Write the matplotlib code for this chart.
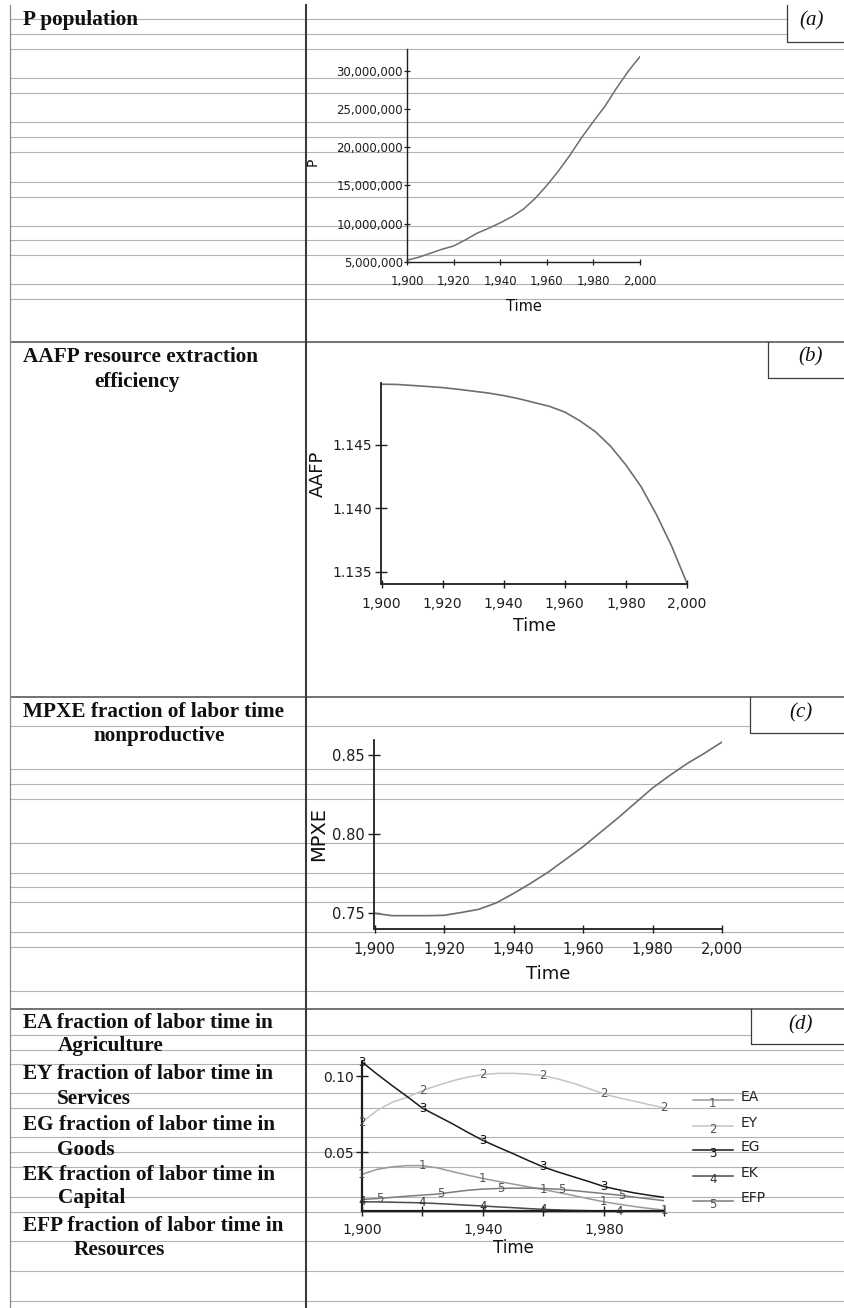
import numpy as np
import matplotlib
matplotlib.use("Agg")
import matplotlib.pyplot as plt
from matplotlib.ticker import FuncFormatter, FixedLocator

W, H = 845, 1308

# ------------------------------------------------------------------ data
years = [1900, 1905, 1910, 1915, 1920, 1925, 1930, 1935, 1940, 1945, 1950,
         1955, 1960, 1965, 1970, 1975, 1980, 1985, 1990, 1995, 2000]

P = [5.2e6, 5.58e6, 6.1e6, 6.63e6, 7.06e6, 7.85e6, 8.73e6, 9.38e6, 10.1e6, 10.9e6, 11.9e6,
     13.3e6, 15.0e6, 16.9e6, 19.0e6, 21.3e6, 23.4e6, 25.4e6, 27.8e6, 30.0e6, 31.9e6]

AAFP = [1.14980, 1.14978, 1.14970, 1.14962, 1.14953, 1.14940, 1.14925, 1.14910, 1.14890,
        1.14865, 1.14835, 1.14805, 1.14760, 1.14690, 1.14605, 1.14490, 1.14342, 1.14170,
        1.13950, 1.13700, 1.13408]

MPXE = [0.7500, 0.7485, 0.7485, 0.7485, 0.7487, 0.7505, 0.7525, 0.7565, 0.7625, 0.7690,
        0.7760, 0.7840, 0.7920, 0.8010, 0.8100, 0.8195, 0.8290, 0.8370, 0.8445, 0.8510, 0.8580]

EA = [0.0352, 0.0385, 0.0402, 0.0410, 0.0410, 0.0395, 0.0370, 0.0347, 0.0325, 0.0306, 0.0288,
      0.0270, 0.0252, 0.0232, 0.0212, 0.0191, 0.0171, 0.0155, 0.0140, 0.0127, 0.0116]
EY = [0.0697, 0.0774, 0.0829, 0.0862, 0.0906, 0.0940, 0.0971, 0.0995, 0.1012, 0.1020, 0.1020,
      0.1015, 0.1004, 0.0982, 0.0954, 0.0920, 0.0884, 0.0858, 0.0836, 0.0813, 0.0792]
EG = [0.1095, 0.1015, 0.0939, 0.0866, 0.0790, 0.0738, 0.0686, 0.0630, 0.0577, 0.0532, 0.0489,
      0.0444, 0.0401, 0.0367, 0.0336, 0.0305, 0.0272, 0.0250, 0.0230, 0.0214, 0.0200]
EK = [0.0171, 0.0170, 0.0168, 0.0166, 0.0164, 0.0159, 0.0154, 0.0148, 0.0143, 0.0137, 0.0132,
      0.0126, 0.0121, 0.0117, 0.0114, 0.0112, 0.0110, 0.0109, 0.0109, 0.0108, 0.0108]
EFP = [0.0186, 0.0192, 0.0200, 0.0208, 0.0215, 0.0222, 0.0235, 0.0247, 0.0255, 0.0259, 0.0261,
       0.0261, 0.0259, 0.0254, 0.0245, 0.0235, 0.0225, 0.0215, 0.0202, 0.0190, 0.0178]

d_names = ["EA", "EY", "EG", "EK", "EFP"]
d_numbers = ["1", "2", "3", "4", "5"]

x_ticks = [1900, 1920, 1940, 1960, 1980, 2000]
d_xlabels_shown = [1900, 1940, 1980]
P_ticks = [5e6, 10e6, 15e6, 20e6, 25e6, 30e6]
AAFP_ticks = [1.135, 1.140, 1.145]
MPXE_ticks = [0.75, 0.80, 0.85]
E_ticks = [0.05, 0.10]

left_lines = [
    ("P population", 22.6, 24.5),
    ("AAFP resource extraction", 22.6, 361.7),
    ("efficiency", 94.3, 386.7),
    ("MPXE fraction of labor time", 22.6, 717.3),
    ("nonproductive", 93.2, 740.5),
    ("EA fraction of labor time in", 22.7, 1027.7),
    ("Agriculture", 57.3, 1051.5),
    ("EY fraction of labor time in", 22.7, 1079.0),
    ("Services", 57.3, 1104.0),
    ("EG fraction of labor time in", 22.7, 1130.0),
    ("Goods", 57.3, 1155.0),
    ("EK fraction of labor time in", 22.7, 1180.5),
    ("Capital", 58.3, 1203.5),
    ("EFP fraction of labor time in", 22.7, 1230.7),
    ("Resources", 74.0, 1255.0),
]

# ------------------------------------------------------------------ layout / style
fig = plt.figure(figsize=(W / 100, H / 100), dpi=100)
fig.patch.set_facecolor("white")
bg = fig.add_axes([0, 0, 1, 1], zorder=0)
bg.set_xlim(0, W)
bg.set_ylim(H, 0)
bg.axis("off")

LIGHT = "#b2b2b2"
BOXES = [(787.0, 5.0, 42.0), (768.0, 341.7, 378.3), (750.5, 697.0, 732.7), (751.0, 1009.0, 1044.3)]
rule_y = [19.3, 34.3, 49.3, 78.3, 93.3, 122.3, 137.3, 152.3, 181.7, 196.7, 225.7, 240.0,
          255.3, 284.3, 299.3,
          725.5, 769.3, 784.3, 799.3, 843.3, 872.5, 887.3, 902.3, 931.5, 946.5, 990.7,
          1035.0, 1050.0, 1064.3, 1093.3, 1108.3, 1137.3, 1152.3, 1167.3, 1196.7, 1211.7,
          1240.5, 1270.5, 1300.5]
for y in rule_y:
    x1 = W
    for bx, by0, by1 in BOXES:
        if by0 <= y <= by1:
            x1 = bx
    bg.plot([10, x1], [y, y], color=LIGHT, lw=0.8, solid_capstyle="butt")
for y in [341.7, 697.0, 1009.0]:
    bg.plot([10, W], [y, y], color="#5a5a5a", lw=1.2, solid_capstyle="butt")
bg.plot([10, 10], [5, H], color="#8a8a8a", lw=0.9)
bg.plot([306, 306], [5, H], color="#3c3c3c", lw=1.5)
for bx, by0, by1 in BOXES:
    bg.plot([bx, bx, W], [by0, by1, by1], color="#3c3c3c", lw=0.9)

panel_tags = [("(a)", 812.0, 21.0), ("(b)", 811.0, 356.7), ("(c)", 801.0, 713.3), ("(d)", 800.5, 1025.0)]
for t, x, y in panel_tags:
    bg.text(x, y, t, fontsize=15, style="italic", family=["Liberation Serif", "DejaVu Serif"],
            ha="center", va="center", color="#111111")

for t, x, y in left_lines:
    bg.text(x, y, t, fontsize=15.3, weight="bold", family=["Liberation Serif", "DejaVu Serif"],
            ha="left", va="baseline", color="#111111")


def chart(x0, y0, x1, y1):
    ax = fig.add_axes([x0 / W, 1 - y1 / H, (x1 - x0) / W, (y1 - y0) / H], zorder=2)
    ax.patch.set_visible(False)
    ax.spines["top"].set_visible(False)
    ax.spines["right"].set_visible(False)
    for s in ["left", "bottom"]:
        ax.spines[s].set_color("#1e1e1e")
    ax._px = (x0, y0, x1, y1)
    return ax


def place_labels(ax, xlab_cy, ylab=None, ylab_cx=None, ylab_cy=None, xsize=12, ysize=12):
    x0, y0, x1, y1 = ax._px
    ax.set_xlabel("Time", fontsize=xsize, va="center", color="#111111")
    ax.xaxis.set_label_coords(0.5, (y1 - xlab_cy) / (y1 - y0))
    if ylab:
        ax.set_ylabel(ylab, fontsize=ysize, va="center", color="#111111")
        ax.yaxis.set_label_coords((ylab_cx - x0) / (x1 - x0), (y1 - ylab_cy) / (y1 - y0))


line_grey = "#6e6e6e"

# (a) population
axa = chart(407, 49, 640, 261.7)
axa.plot(years, P, color=line_grey, lw=1.1)
axa.set_xlim(1900, 2000)
axa.set_ylim(5.0e6, 3.29e7)
axa.xaxis.set_major_locator(FixedLocator(x_ticks))
axa.yaxis.set_major_locator(FixedLocator(P_ticks))
axa.xaxis.set_major_formatter(FuncFormatter(lambda v, p: f"{v:,.0f}"))
axa.yaxis.set_major_formatter(FuncFormatter(lambda v, p: f"{v:,.0f}"))
for s in ["left", "bottom"]:
    axa.spines[s].set_linewidth(1.0)
axa.tick_params(axis="both", direction="inout", length=5, width=0.9, labelsize=8.5,
                colors="#1e1e1e")
axa.tick_params(axis="x", pad=7.0)
axa.tick_params(axis="y", pad=0.5)
place_labels(axa, 306.7, "P", 313.0, 161.7, xsize=10.5, ysize=10)

# (b) AAFP
axb = chart(381.5, 383.3, 687, 584.3)
axb.plot(years, AAFP, color=line_grey, lw=1.2)
axb.set_xlim(1900, 2000)
axb.set_ylim(1.1340, 1.14987)
axb.xaxis.set_major_locator(FixedLocator(x_ticks))
axb.yaxis.set_major_locator(FixedLocator(AAFP_ticks))
axb.xaxis.set_major_formatter(FuncFormatter(lambda v, p: f"{v:,.0f}"))
axb.yaxis.set_major_formatter(FuncFormatter(lambda v, p: f"{v:.3f}"))
for s in ["left", "bottom"]:
    axb.spines[s].set_linewidth(1.3)
axb.tick_params(axis="both", direction="inout", width=1.0, labelsize=10, colors="#1e1e1e")
axb.tick_params(axis="x", length=6, pad=5.8)
axb.tick_params(axis="y", length=9, pad=2.5)
place_labels(axb, 626.0, "AAFP", 318.3, 474.0, xsize=12.5, ysize=13)

# (c) MPXE
axc = chart(374.5, 740, 722, 929.3)
axc.plot(years, MPXE, color=line_grey, lw=1.2)
axc.set_xlim(1900, 2000)
axc.set_ylim(0.7399, 0.8593)
axc.xaxis.set_major_locator(FixedLocator(x_ticks))
axc.yaxis.set_major_locator(FixedLocator(MPXE_ticks))
axc.xaxis.set_major_formatter(FuncFormatter(lambda v, p: f"{v:,.0f}"))
axc.yaxis.set_major_formatter(FuncFormatter(lambda v, p: f"{v:.2f}"))
for s in ["left", "bottom"]:
    axc.spines[s].set_linewidth(1.3)
axc.tick_params(axis="both", direction="inout", width=1.0, labelsize=10.5, colors="#1e1e1e")
axc.tick_params(axis="x", length=6, pad=6.5)
axc.tick_params(axis="y", length=9, pad=2.5)
place_labels(axc, 974.3, "MPXE", 319.0, 834.0, xsize=13, ysize=14)

# (d) labour fractions
axd = chart(361.9, 1062, 664.3, 1211.3)
d_series = [EA, EY, EG, EK, EFP]
d_colors = ["#9a9a9a", "#c4c4c4", "#1a1a1a", "#4a4a4a", "#7c7c7c"]
d_numcolors = ["#555555", "#555555", "#111111", "#333333", "#555555"]
d_marker_years = [[1900, 1920, 1940, 1960, 1980, 2000],
                  [1900, 1920, 1940, 1960, 1980, 2000],
                  [1900, 1920, 1940, 1960, 1980],
                  [1900, 1920, 1940, 1960, 1985],
                  [1906, 1926, 1946, 1966, 1986]]
for vals, col, ncol, num, myrs in zip(d_series, d_colors, d_numcolors, d_numbers, d_marker_years):
    axd.plot(years, vals, color=col, lw=1.1)
    for yr in myrs:
        axd.text(yr, np.interp(yr, years, vals), num, fontsize=8.5, color=ncol,
                 ha="center", va="center", clip_on=False)
axd.set_xlim(1900, 2000)
axd.set_ylim(0.0108, 0.1095)
axd.xaxis.set_major_locator(FixedLocator(x_ticks))
axd.yaxis.set_major_locator(FixedLocator(E_ticks))
axd.xaxis.set_major_formatter(FuncFormatter(
    lambda v, p: f"{v:,.0f}" if round(v) in d_xlabels_shown else ""))
axd.yaxis.set_major_formatter(FuncFormatter(lambda v, p: f"{v:.2f}"))
for s in ["left", "bottom"]:
    axd.spines[s].set_linewidth(1.6)
axd.tick_params(axis="both", direction="inout", width=1.0, labelsize=10, colors="#1e1e1e")
axd.tick_params(axis="x", length=6.5, pad=5)
axd.tick_params(axis="y", length=8, pad=1.8)
place_labels(axd, 1248.3, xsize=12)

# legend for (d)
leg_y = [1097.3, 1123.3, 1147.3, 1173.3, 1198.3]
for name, num, col, ncol, ly in zip(d_names, d_numbers, d_colors, d_numcolors, leg_y):
    bg.plot([692.8, 732.8], [ly + 3, ly + 3], color=col, lw=1.1)
    bg.text(712.8, ly + 6, num, fontsize=8.5, color=ncol, ha="center", va="center")
    bg.text(740.7, ly, name, fontsize=10, color="#222222", ha="left", va="center")

fig.savefig("out.png", dpi=100, facecolor="white")
